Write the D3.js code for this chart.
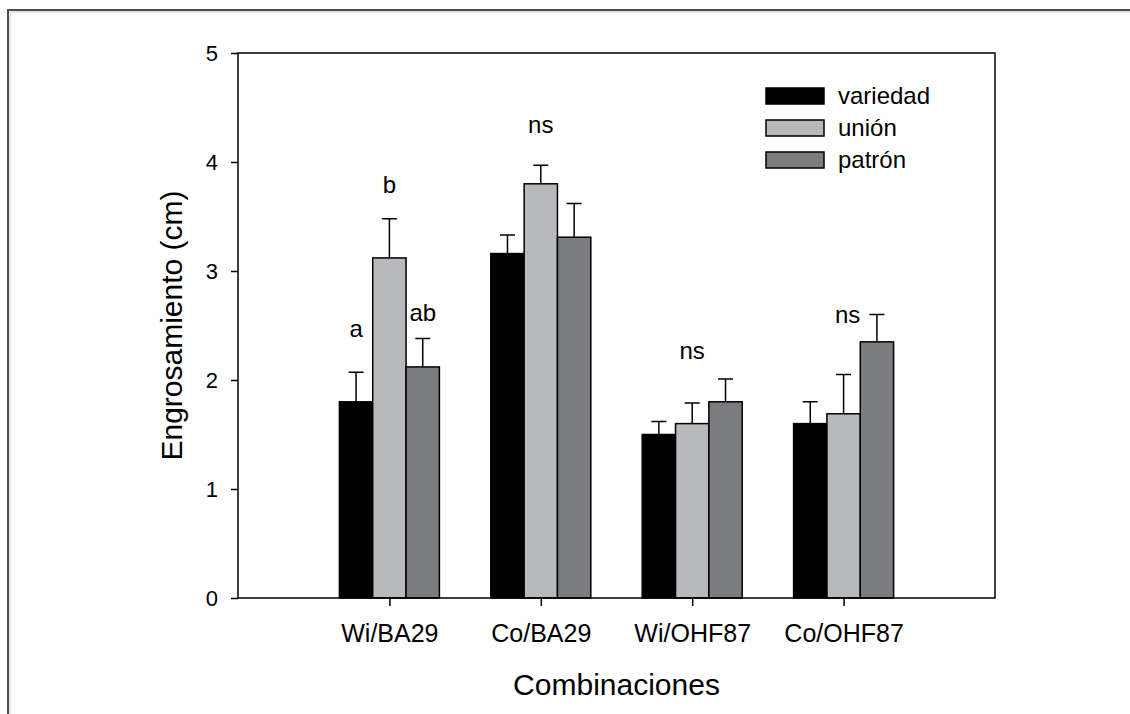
<!DOCTYPE html>
<html>
<head>
<meta charset="utf-8">
<script src="https://cdn.jsdelivr.net/npm/d3@7"></script>
<style>
  body { margin: 0; background: #fff; }
  svg { display: block; font-family: "Liberation Sans", Arial, sans-serif; }
</style>
</head>
<body>
<svg id="chart"></svg>
<script>
// Data
const categories = ['Wi/BA29', 'Co/BA29', 'Wi/OHF87', 'Co/OHF87'];
const seriesNames = ['variedad', 'unión', 'patrón'];
const variedad = [1.80, 3.16, 1.50, 1.60];
const variedadErr = [0.27, 0.17, 0.12, 0.20];
const union = [3.12, 3.80, 1.60, 1.69];
const unionErr = [0.36, 0.17, 0.19, 0.36];
const patron = [2.12, 3.31, 1.80, 2.35];
const patronErr = [0.26, 0.31, 0.21, 0.25];
const yTicks = [0, 1, 2, 3, 4, 5];
// significance letters: group index, series index (-1 = group centre), text, baseline value
const letters = [
  { g: 0, s: 0, text: 'a', y: 2.39 },
  { g: 0, s: 1, text: 'b', y: 3.72 },
  { g: 0, s: 2, text: 'ab', y: 2.54 },
  { g: 1, s: -1, text: 'ns', y: 4.27 },
  { g: 2, s: -1, text: 'ns', y: 2.19 },
  { g: 3, s: -1, text: 'ns', y: 2.52 }
];

const values = [variedad, union, patron];
const errors = [variedadErr, unionErr, patronErr];
const colors = ['#000000', '#b7b9bc', '#7b7c80'];

const width = 1130, height = 714;
const margin = { top: 53, right: 135, bottom: 116, left: 238 };
const innerWidth = width - margin.left - margin.right;
const innerHeight = height - margin.top - margin.bottom;

const svg = d3.select('#chart')
  .attr('width', width)
  .attr('height', height);

// outer frame (top and left edges only)
svg.append('path')
  .attr('d', `M8,${height} V10 H${width}`)
  .attr('fill', 'none')
  .attr('stroke', '#4d4d4d')
  .attr('stroke-width', 2);
svg.append('path')
  .attr('d', `M10,${height} V12 H${width}`)
  .attr('fill', 'none')
  .attr('stroke', '#c8c8c8')
  .attr('stroke-width', 1);

const g = svg.append('g')
  .attr('transform', `translate(${margin.left},${margin.top})`);

// Scales
const xScale = d3.scalePoint()
  .domain(categories)
  .range([0, innerWidth])
  .padding(1);

const inner = d3.scaleBand()
  .domain(seriesNames)
  .range([-50, 50])
  .padding(0);

const yScale = d3.scaleLinear()
  .domain([0, 5])
  .range([innerHeight, 0]);

// Bars
const flat = [];
categories.forEach((c, i) => {
  seriesNames.forEach((s, j) => {
    flat.push({ cat: c, series: s, j, value: values[j][i], err: errors[j][i] });
  });
});

g.selectAll('.bar')
  .data(flat)
  .enter()
  .append('rect')
  .attr('class', 'bar')
  .attr('x', d => xScale(d.cat) + inner(d.series))
  .attr('y', d => yScale(d.value))
  .attr('width', inner.bandwidth())
  .attr('height', d => innerHeight - yScale(d.value))
  .attr('fill', d => colors[d.j])
  .attr('stroke', '#000')
  .attr('stroke-width', 1.5);

// Error bars (upper only)
const cx = d => xScale(d.cat) + inner(d.series) + inner.bandwidth() / 2;
g.selectAll('.err')
  .data(flat)
  .enter()
  .append('path')
  .attr('class', 'err')
  .attr('d', d => {
    const x = cx(d), y0 = yScale(d.value), y1 = yScale(d.value + d.err);
    return `M${x},${y0} V${y1} M${x - 7.5},${y1} H${x + 7.5}`;
  })
  .attr('fill', 'none')
  .attr('stroke', '#000')
  .attr('stroke-width', 1.5);

// Axes
const yAxis = g.append('g')
  .call(d3.axisLeft(yScale).tickValues(yTicks).tickFormat(d3.format('d'))
    .tickSize(7).tickPadding(13).tickSizeOuter(0));
yAxis.attr('font-size', 22).attr('font-family', null);
yAxis.select('.domain').remove();
yAxis.selectAll('line').attr('stroke-width', 1.5);
yAxis.selectAll('text').attr('fill', '#000');

const xAxis = g.append('g')
  .attr('transform', `translate(0,${innerHeight})`)
  .call(d3.axisBottom(xScale).tickSize(8).tickPadding(18).tickSizeOuter(0));
xAxis.attr('font-size', 25).attr('font-family', null);
xAxis.select('.domain').remove();
xAxis.selectAll('line').attr('stroke-width', 1.5);
xAxis.selectAll('text').attr('fill', '#000');

// Plot frame
g.append('rect')
  .attr('width', innerWidth)
  .attr('height', innerHeight)
  .attr('fill', 'none')
  .attr('stroke', '#000')
  .attr('stroke-width', 1.5);

// Letters
g.selectAll('.letter')
  .data(letters)
  .enter()
  .append('text')
  .attr('class', 'letter')
  .attr('x', d => d.s < 0
    ? xScale(categories[d.g]) + (d.g === 3 ? 4 : 0)
    : xScale(categories[d.g]) + inner(seriesNames[d.s]) + inner.bandwidth() / 2)
  .attr('y', d => yScale(d.y))
  .attr('text-anchor', 'middle')
  .style('font-size', '24px')
  .text(d => d.text);

// Legend
const legend = svg.append('g')
  .attr('transform', 'translate(766,88)');
seriesNames.forEach((s, j) => {
  const row = legend.append('g').attr('transform', `translate(0,${j * 32})`);
  row.append('rect')
    .attr('width', 58)
    .attr('height', 16)
    .attr('fill', colors[j])
    .attr('stroke', '#000')
    .attr('stroke-width', 1.5);
  row.append('text')
    .attr('x', 72)
    .attr('y', 8)
    .attr('dy', '0.35em')
    .style('font-size', '24px')
    .text(s);
});

// Axis titles
svg.append('text')
  .attr('x', margin.left + innerWidth / 2)
  .attr('y', 695)
  .attr('text-anchor', 'middle')
  .style('font-size', '30px')
  .text('Combinaciones');

svg.append('text')
  .attr('transform', 'rotate(-90)')
  .attr('x', -(margin.top + innerHeight / 2))
  .attr('y', 182)
  .attr('text-anchor', 'middle')
  .style('font-size', '30px')
  .text('Engrosamiento (cm)');
</script>
</body>
</html>
